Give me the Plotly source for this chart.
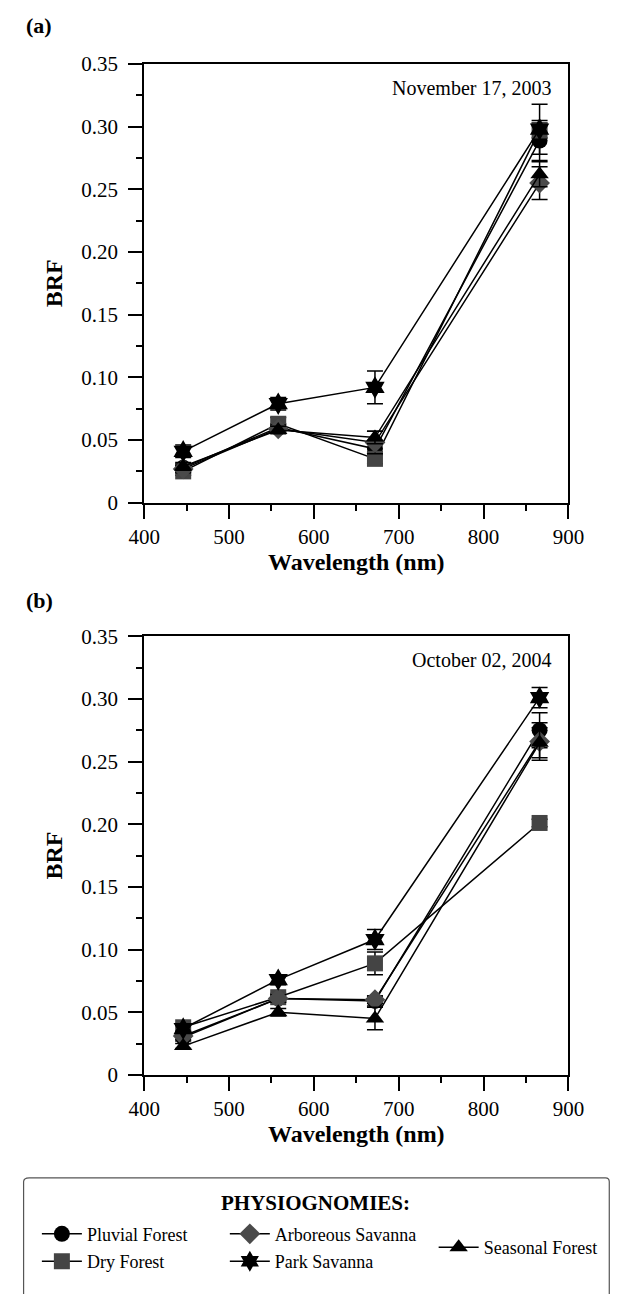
import plotly.graph_objects as go

# MISR band centre wavelengths (nm)
wavelengths = [446, 558, 672, 866]

series_names = ["Pluvial Forest", "Dry Forest", "Arboreous Savanna", "Park Savanna", "Seasonal Forest"]

# (a) November 17, 2003
a_pluvial = [0.028, 0.060, 0.043, 0.289]
a_dry = [0.025, 0.063, 0.035, 0.297]
a_arboreous = [0.027, 0.059, 0.048, 0.255]
a_park = [0.041, 0.079, 0.092, 0.298]
a_seasonal = [0.029, 0.058, 0.052, 0.262]

a_pluvial_err = [0.003, 0.003, 0.005, 0.016]
a_dry_err = [0.003, 0.005, 0.004, 0.006]
a_arboreous_err = [0.003, 0.003, 0.009, 0.013]
a_park_err = [0.005, 0.005, 0.013, 0.020]
a_seasonal_err = [0.003, 0.003, 0.005, 0.010]

# (b) October 02, 2004
b_pluvial = [0.030, 0.061, 0.059, 0.275]
b_dry = [0.038, 0.062, 0.089, 0.201]
b_arboreous = [0.031, 0.061, 0.060, 0.266]
b_park = [0.037, 0.076, 0.108, 0.301]
b_seasonal = [0.023, 0.050, 0.045, 0.265]

b_pluvial_err = [0.003, 0.003, 0.004, 0.014]
b_dry_err = [0.003, 0.003, 0.009, 0.003]
b_arboreous_err = [0.003, 0.003, 0.003, 0.015]
b_park_err = [0.003, 0.004, 0.008, 0.008]
b_seasonal_err = [0.002, 0.003, 0.009, 0.012]

y_tickvals = [0, 0.05, 0.10, 0.15, 0.20, 0.25, 0.30, 0.35]
y_ticktext = ["0", "0.05", "0.10", "0.15", "0.20", "0.25", "0.30", "0.35"]
x_tickvals = [400, 500, 600, 700, 800, 900]

symbols = ["circle", "square", "diamond", "hexagram", "triangle-up"]
marker_colors = ["#000000", "#444444", "#4a4a4a", "#000000", "#000000"]
marker_sizes = [16, 16, 16, 17, 16]
legend_ids = ["legend", "legend", "legend2", "legend2", "legend3"]

SERIF = "Liberation Serif, Times New Roman, serif"

panel_a = [a_pluvial, a_dry, a_arboreous, a_park, a_seasonal]
panel_a_err = [a_pluvial_err, a_dry_err, a_arboreous_err, a_park_err, a_seasonal_err]
panel_b = [b_pluvial, b_dry, b_arboreous, b_park, b_seasonal]
panel_b_err = [b_pluvial_err, b_dry_err, b_arboreous_err, b_park_err, b_seasonal_err]

fig = go.Figure()

for panel_idx, (vals, errs) in enumerate([(panel_a, panel_a_err), (panel_b, panel_b_err)]):
    xa = "x" if panel_idx == 0 else "x2"
    ya = "y" if panel_idx == 0 else "y2"
    for i, name in enumerate(series_names):
        fig.add_trace(go.Scatter(
            x=wavelengths, y=vals[i], name=name,
            xaxis=xa, yaxis=ya,
            mode="lines+markers",
            line=dict(color="black", width=1.5),
            marker=dict(symbol=symbols[i], size=marker_sizes[i], color=marker_colors[i],
                        line=dict(width=0)),
            error_y=dict(type="data", array=errs[i], visible=True,
                         color="black", thickness=1.5, width=8),
            showlegend=(panel_idx == 0),
            legend=legend_ids[i],
            legendgroup=name,
            cliponaxis=False,
        ))

# panel geometry (paper fractions)
x_dom = [135 / 630, 582 / 630]
ya_dom = [1 - 500 / 1294, 1 - 53 / 1294]
yb_dom = [1 - 1083 / 1294, 1 - 636 / 1294]

axis_font = dict(family=SERIF, size=21, color="black")
title_font = dict(family=SERIF, size=24, color="black")


def xaxis_cfg(anchor):
    return dict(
        domain=x_dom, anchor=anchor, range=[400, 900],
        tickvals=x_tickvals, ticks="outside", ticklen=14, tickwidth=1.5, tickcolor="black",
        minor=dict(dtick=50, tick0=400, ticks="outside", ticklen=6, tickwidth=1.5, tickcolor="black"),
        showline=True, linecolor="black", linewidth=1.8, mirror=True,
        showgrid=False, zeroline=False, tickfont=axis_font,
        title=dict(text="<b>Wavelength (nm)</b>", font=title_font, standoff=4),
    )


def yaxis_cfg(anchor, dom):
    return dict(
        domain=dom, anchor=anchor, range=[0, 0.35],
        tickvals=y_tickvals, ticktext=y_ticktext,
        ticks="outside", ticklen=14, tickwidth=1.5, tickcolor="black",
        minor=dict(dtick=0.025, tick0=0, ticks="outside", ticklen=6, tickwidth=1.5, tickcolor="black"),
        showline=True, linecolor="black", linewidth=1.8, mirror=True,
        showgrid=False, zeroline=False, tickfont=axis_font, ticklabelstandoff=6,
        title=dict(text="<b>BRF</b>", font=title_font, standoff=12),
    )


legend_common = dict(
    font=dict(family=SERIF, size=18, color="black"),
    bgcolor="rgba(0,0,0,0)", borderwidth=0,
    xanchor="left", yanchor="middle", tracegroupgap=1,
    itemwidth=40,
)

legend_mid = 1 - 1259 / 1294

fig.update_layout(
    width=630, height=1294,
    margin=dict(l=0, r=0, t=0, b=0),
    paper_bgcolor="white", plot_bgcolor="white",
    xaxis=xaxis_cfg("y"), yaxis=yaxis_cfg("x", ya_dom),
    xaxis2=xaxis_cfg("y2"), yaxis2=yaxis_cfg("x2", yb_dom),
    legend=dict(x=22 / 630, y=legend_mid, **legend_common),
    legend2=dict(x=220 / 630, y=legend_mid, **legend_common),
    legend3=dict(x=440 / 630, y=legend_mid, **legend_common),
    font=dict(family=SERIF, color="black"),
    shapes=[
        # rounded legend frame, running off the bottom edge
        dict(type="path", xref="paper", yref="paper",
             path=("M 0.0222,0.0820 L 0.9857,0.0820 Q 0.9921,0.0820 0.9921,0.0789 "
                   "L 0.9921,-0.01 L 0.0127,-0.01 L 0.0127,0.0789 "
                   "Q 0.0127,0.0820 0.0222,0.0820 Z"),
             line=dict(color="#555555", width=1.2), fillcolor="rgba(0,0,0,0)"),
    ],
    annotations=[
        dict(text="<b>(a)</b>", x=8 / 630, y=1 - 14 / 1294, xref="paper", yref="paper",
             xanchor="left", yanchor="middle", showarrow=False,
             font=dict(family=SERIF, size=22, color="black")),
        dict(text="<b>(b)</b>", x=8 / 630, y=1 - 600 / 1294, xref="paper", yref="paper",
             xanchor="left", yanchor="middle", showarrow=False,
             font=dict(family=SERIF, size=22, color="black")),
        dict(text="November 17, 2003", x=882, y=0.331, xref="x", yref="y",
             xanchor="right", yanchor="middle", showarrow=False,
             font=dict(family=SERIF, size=20, color="black")),
        dict(text="October 02, 2004", x=882, y=0.331, xref="x2", yref="y2",
             xanchor="right", yanchor="middle", showarrow=False,
             font=dict(family=SERIF, size=20, color="black")),
        dict(text="<b>PHYSIOGNOMIES:</b>", x=0.5, y=1 - 1214 / 1294, xref="paper", yref="paper",
             xanchor="center", yanchor="middle", showarrow=False,
             font=dict(family=SERIF, size=21, color="black")),
    ],
)

fig.write_html("out.html")
